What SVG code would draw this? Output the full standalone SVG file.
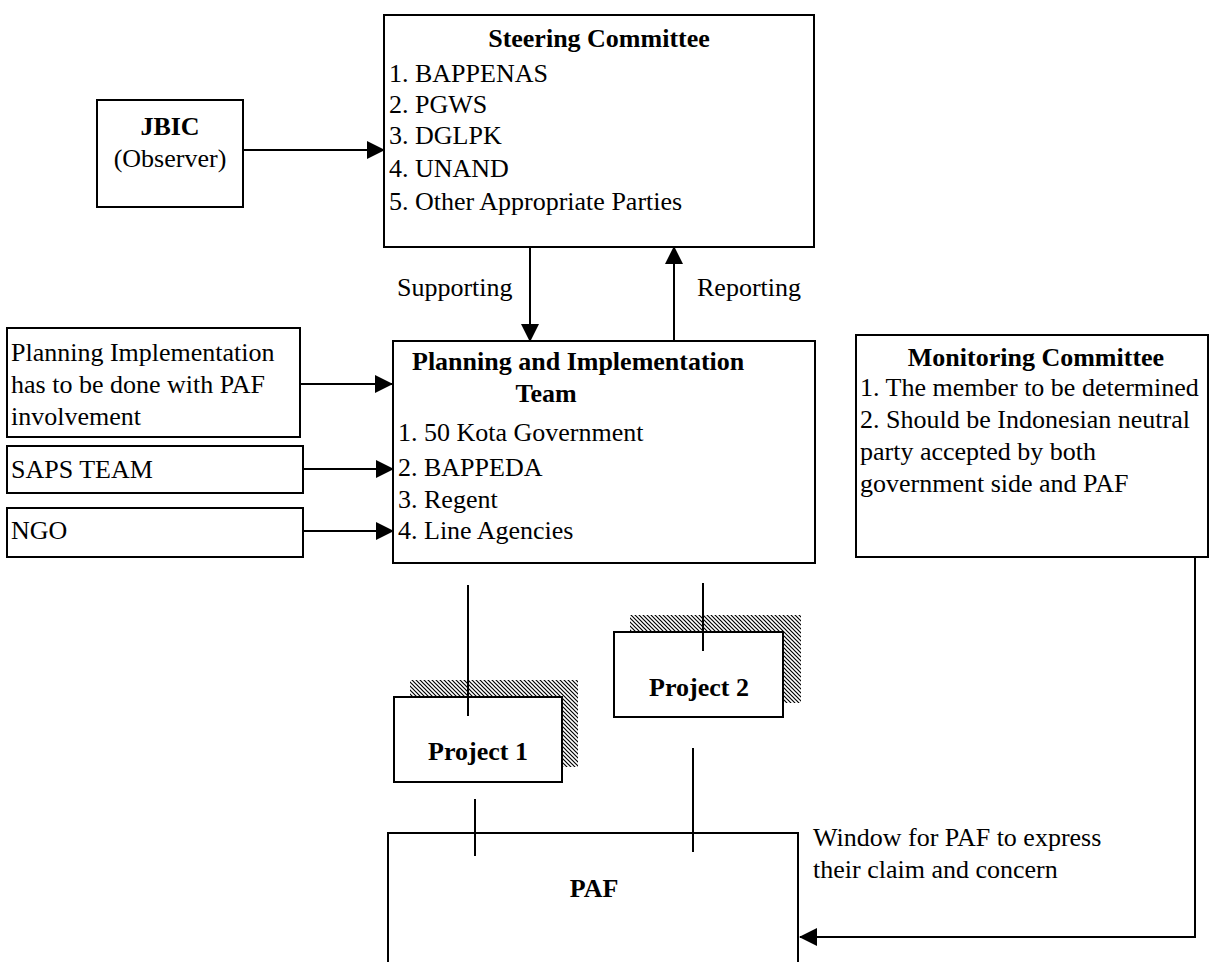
<svg xmlns="http://www.w3.org/2000/svg" width="1210" height="962" viewBox="0 0 1210 962">
<style>
.box{fill:#fff;stroke:#000;stroke-width:2}
.t{font-family:"Liberation Serif","Times New Roman",serif;font-size:26px;fill:#000}
.b{font-family:"Liberation Serif","Times New Roman",serif;font-size:26px;font-weight:bold;fill:#000}
.c{text-anchor:middle}
.ln{stroke:#000;stroke-width:2;fill:none}
</style>
<defs>
<marker id="ah" markerUnits="userSpaceOnUse" markerWidth="18" markerHeight="18" refX="17" refY="9" orient="auto">
<path d="M0,0 L18,9 L0,18 Z" fill="#000"/>
</marker>
<pattern id="hatch" patternUnits="userSpaceOnUse" width="4" height="4">
<rect width="4" height="4" fill="#fff"/>
<path d="M-1,-1 L5,5 M-1,3 L1,5 M3,-1 L5,1" stroke="#000" stroke-width="1.2"/>
</pattern>
</defs>
<rect width="1210" height="962" fill="#fff"/>

<g id="jbic">
<rect class="box" x="97" y="100" width="146" height="107"/>
<text class="b c" x="170" y="135">JBIC</text>
<text class="t c" x="170" y="167">(Observer)</text>
</g>

<g id="steering">
<rect class="box" x="384" y="15" width="430" height="232"/>
<text class="b c" x="599" y="47">Steering Committee</text>
<text class="t" x="389" y="82">1. BAPPENAS</text>
<text class="t" x="389" y="113">2. PGWS</text>
<text class="t" x="389" y="144">3. DGLPK</text>
<text class="t" x="389" y="177">4. UNAND</text>
<text class="t" x="389" y="210">5. Other Appropriate Parties</text>
</g>

<g id="pit">
<rect class="box" x="393" y="341" width="422" height="222"/>
<text class="b" x="412" y="370">Planning and Implementation</text>
<text class="b c" x="546" y="402">Team</text>
<text class="t" x="398" y="441">1. 50 Kota Government</text>
<text class="t" x="398" y="476">2. BAPPEDA</text>
<text class="t" x="398" y="508">3. Regent</text>
<text class="t" x="398" y="539">4. Line Agencies</text>
</g>

<g id="planimp">
<rect class="box" x="7" y="328" width="293" height="109"/>
<text class="t" x="11" y="361">Planning Implementation</text>
<text class="t" x="11" y="393">has to be done with PAF</text>
<text class="t" x="11" y="425">involvement</text>
</g>

<g id="saps">
<rect class="box" x="7" y="446" width="296" height="47"/>
<text class="t" x="11" y="478">SAPS TEAM</text>
</g>

<g id="ngo">
<rect class="box" x="7" y="508" width="296" height="49"/>
<text class="t" x="11" y="539">NGO</text>
</g>

<g id="monitoring">
<rect class="box" x="856" y="335" width="352" height="222"/>
<text class="b c" x="1036" y="366">Monitoring Committee</text>
<text class="t" x="860" y="396">1. The member to be determined</text>
<text class="t" x="860" y="428">2. Should be Indonesian neutral</text>
<text class="t" x="860" y="460">party accepted by both</text>
<text class="t" x="860" y="492">government side and PAF</text>
</g>

<g id="project1">
<rect x="410" y="680" width="168" height="87" fill="url(#hatch)"/>
<rect class="box" x="394" y="697" width="168" height="85"/>
<text class="b c" x="478" y="760">Project 1</text>
</g>

<g id="project2">
<rect x="630" y="615" width="171" height="88" fill="url(#hatch)"/>
<rect class="box" x="614" y="632" width="169" height="85"/>
<text class="b c" x="699" y="696">Project 2</text>
</g>

<g id="paf">
<rect class="box" x="388" y="833" width="410" height="200"/>
<text class="b c" x="594" y="897">PAF</text>
</g>

<g id="connectors">
<line class="ln" x1="243" y1="150" x2="384" y2="150" marker-end="url(#ah)"/>
<line class="ln" x1="530" y1="247" x2="530" y2="341" marker-end="url(#ah)"/>
<line class="ln" x1="674" y1="341" x2="674" y2="247" marker-end="url(#ah)"/>
<line class="ln" x1="300" y1="384" x2="392" y2="384" marker-end="url(#ah)"/>
<line class="ln" x1="303" y1="469" x2="393" y2="469" marker-end="url(#ah)"/>
<line class="ln" x1="303" y1="531" x2="393" y2="531" marker-end="url(#ah)"/>
<line class="ln" x1="468" y1="585" x2="468" y2="716"/>
<line class="ln" x1="703" y1="583" x2="703" y2="651"/>
<line class="ln" x1="475" y1="799" x2="475" y2="856"/>
<line class="ln" x1="693" y1="748" x2="693" y2="852"/>
<path class="ln" d="M1195,557 V937 H800" marker-end="url(#ah)"/>
<text class="t" x="397" y="296">Supporting</text>
<text class="t" x="697" y="296">Reporting</text>
<text class="t" x="813" y="846">Window for PAF to express</text>
<text class="t" x="813" y="878">their claim and concern</text>
</g>
</svg>
